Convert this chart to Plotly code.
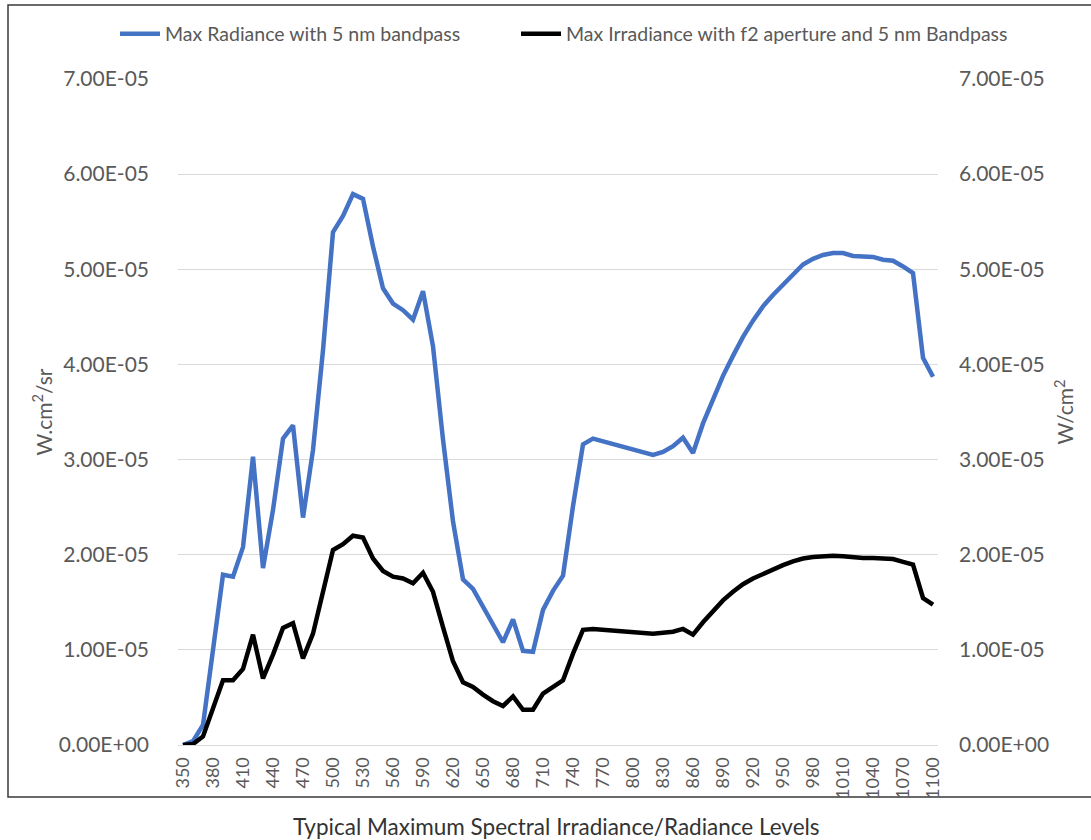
import plotly.graph_objects as go

# Wavelength categories (nm)
wavelength = [350, 360, 370, 380, 390, 400, 410, 420, 430, 440,
              450, 460, 470, 480, 490, 500, 510, 520, 530, 540,
              550, 560, 570, 580, 590, 600, 610, 620, 630, 640,
              650, 660, 670, 680, 690, 700, 710, 720, 730, 740,
              750, 760, 770, 780, 790, 800, 810, 820, 830, 840,
              850, 860, 870, 880, 890, 900, 910, 920, 930, 940,
              950, 960, 970, 980, 990, 1000, 1010, 1020, 1030, 1040,
              1050, 1060, 1070, 1080, 1090, 1100]

# Max radiance, 5 nm bandpass (units of 1E-05 W.cm^2/sr)
radiance = [0.0, 0.04, 0.21, 1.0, 1.79, 1.77, 2.08, 3.03, 1.86, 2.47,
            3.22, 3.36, 2.39, 3.1, 4.15, 5.39, 5.56, 5.79, 5.74, 5.24,
            4.8, 4.64, 4.57, 4.47, 4.77, 4.19, 3.21, 2.35, 1.74, 1.64,
            1.45, 1.27, 1.08, 1.32, 0.99, 0.98, 1.42, 1.62, 1.78, 2.51,
            3.16, 3.22, 3.19, 3.16, 3.13, 3.1, 3.07, 3.05, 3.08, 3.14,
            3.23, 3.07, 3.38, 3.64, 3.88, 4.09, 4.29, 4.46, 4.61, 4.73,
            4.84, 4.95, 5.05, 5.11, 5.15, 5.17, 5.17, 5.14, 5.13, 5.13,
            5.1, 5.09, 5.03, 4.96, 4.07, 3.87]

# Max irradiance, f2 aperture and 5 nm bandpass (units of 1E-05 W/cm^2)
irradiance = [0.0, 0.01, 0.09, 0.37, 0.68, 0.68, 0.80, 1.16, 0.70, 0.95,
              1.23, 1.28, 0.91, 1.17, 1.61, 2.05, 2.11, 2.20, 2.18, 1.96,
              1.83, 1.77, 1.75, 1.70, 1.81, 1.61, 1.24, 0.88, 0.66, 0.61,
              0.53, 0.46, 0.41, 0.51, 0.37, 0.37, 0.54, 0.61, 0.68, 0.96,
              1.21, 1.22, 1.21, 1.20, 1.19, 1.18, 1.17, 1.17, 1.18, 1.19,
              1.22, 1.16, 1.29, 1.41, 1.52, 1.61, 1.69, 1.75, 1.80, 1.85,
              1.89, 1.93, 1.96, 1.975, 1.985, 1.99, 1.985, 1.97, 1.965, 1.965,
              1.955, 1.955, 1.925, 1.895, 1.545, 1.475]

SCALE = 1e-5
radiance_vals = [v * SCALE for v in radiance]
irradiance_vals = [v * SCALE for v in irradiance]

# Axis ticks
y_tickvals = [0, 1e-5, 2e-5, 3e-5, 4e-5, 5e-5, 6e-5, 7e-5]
y_ticktext = ["0.00E+00", "1.00E-05", "2.00E-05", "3.00E-05", "4.00E-05", "5.00E-05",
              "6.00E-05", "7.00E-05"]
x_tickvals = wavelength[::3]

FONT = "Lato"
GREY = "#595959"

# Pixel layout of the plot area
W, H = 1091, 840
L, R, T, B = 178, 938, 79, 745


def px_x(px):
    return (px - L) / (R - L)


def px_y(py):
    return (B - py) / (B - T)


fig = go.Figure()
fig.add_trace(go.Scatter(
    x=wavelength, y=radiance_vals, mode="lines",
    name="Max Radiance with 5 nm bandpass",
    line=dict(color="#4472C4", width=4.5), legend="legend",
))
fig.add_trace(go.Scatter(
    x=wavelength, y=irradiance_vals, mode="lines", yaxis="y2",
    name="Max Irradiance with f2 aperture and 5 nm Bandpass",
    line=dict(color="#000000", width=4.5), legend="legend2",
))

legend_style = dict(
    orientation="h", yanchor="middle", y=px_y(34), xanchor="left",
    font=dict(size=19.5, color=GREY, family=FONT), itemwidth=40,
    bgcolor="rgba(0,0,0,0)",
)

fig.update_layout(
    width=W, height=H,
    margin=dict(l=L, r=W - R, t=T, b=H - B, pad=0),
    paper_bgcolor="white", plot_bgcolor="white",
    font=dict(family=FONT, color=GREY, size=17),
    showlegend=True,
    legend=dict(legend_style, x=px_x(115)),
    legend2=dict(legend_style, x=px_x(516)),
    xaxis=dict(
        range=[345, 1105], tickvals=x_tickvals, tickangle=-90,
        showgrid=False, zeroline=False, showline=True, linecolor="#d9d9d9", linewidth=1,
        ticks="", tickfont=dict(size=18, color=GREY), ticklabelstandoff=4,
    ),
    yaxis=dict(
        range=[0, 7e-5], tickvals=y_tickvals, ticktext=y_ticktext,
        showgrid=True, gridcolor="#d9d9d9", gridwidth=1, zeroline=False,
        showline=False, ticks="", tickfont=dict(size=21, color=GREY),
        ticklabelstandoff=28,
        title=dict(text="W.cm<sup>2</sup>/sr", font=dict(size=21, color=GREY), standoff=0),
    ),
    yaxis2=dict(
        range=[0, 7e-5], tickvals=y_tickvals, ticktext=y_ticktext,
        overlaying="y", side="right", showgrid=False, zeroline=False,
        showline=False, ticks="", tickfont=dict(size=21, color=GREY),
        ticklabelstandoff=20,
        title=dict(text="W/cm<sup>2</sup>", font=dict(size=21, color=GREY), standoff=10),
    ),
    shapes=[
        dict(type="rect", xref="paper", yref="paper",
             x0=px_x(8), x1=px_x(1096), y0=px_y(797), y1=px_y(5),
             line=dict(color="#3a3a3a", width=1.5), fillcolor="rgba(0,0,0,0)", layer="below"),
    ],
    annotations=[
        dict(text="Typical Maximum Spectral Irradiance/Radiance Levels",
             xref="paper", yref="paper", x=px_x(556), y=px_y(826),
             xanchor="center", yanchor="middle", showarrow=False,
             font=dict(size=22.5, color="#333333", family=FONT)),
    ],
)

fig.write_html("out.html")
